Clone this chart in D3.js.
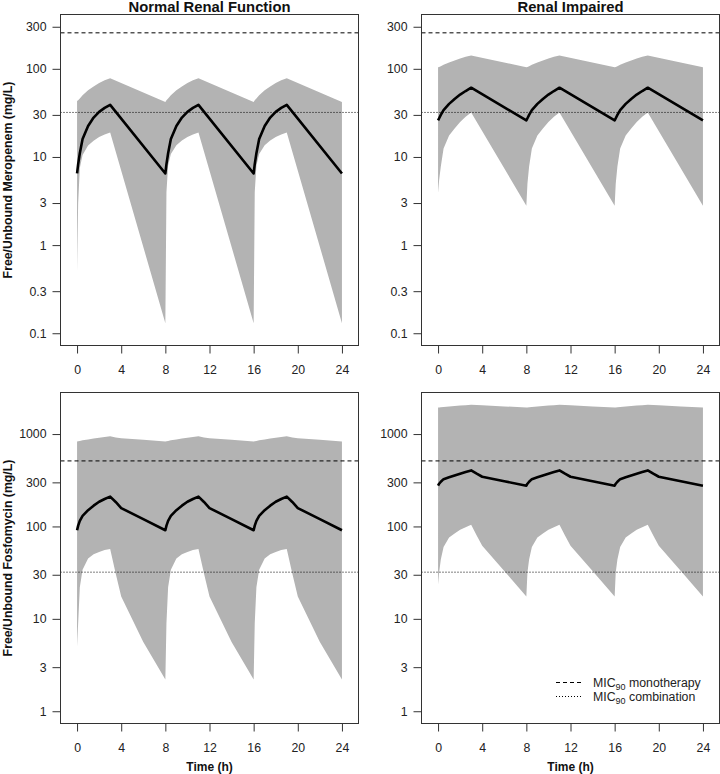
<!DOCTYPE html>
<html>
<head>
<meta charset="utf-8">
<script src="https://cdn.jsdelivr.net/npm/d3@7"></script>
<style>
  html, body { margin: 0; padding: 0; background: #fff; }
  svg { display: block; font-family: "Liberation Sans", Arial, sans-serif; }
</style>
</head>
<body>
<svg id="chart" width="720" height="774"></svg>
<script>
// ---------------- data ----------------
const timeMero = [0,0.1,0.25,0.5,1,1.5,2,2.5,3, 8,8.1,8.25,8.5,9,9.5,10,10.5,11, 16,16.1,16.25,16.5,17,17.5,18,18.5,19, 24];

const meroNormalMedian = [6.5,8.3,11,16,22.5,28,32.5,36,39, 6.5,8.3,11,16,22.5,28,32.5,36,39, 6.5,8.3,11,16,22.5,28,32.5,36,39, 6.5];
const meroNormalUpper  = [43,44,46,50,57,63,69,74,78, 42,44,46,50,57,63,69,74,78, 42,44,46,50,57,63,69,74,78, 42];
const meroNormalLower  = [0.5,3,7.5,10.5,13.5,15.3,16.8,18,19, 0.13,4,8,10.8,13.6,15.4,16.8,18,19, 0.13,4,8,10.8,13.6,15.4,16.8,18,19, 0.13];

const meroImpMedian = [26,27.5,30,34,40,45.5,51,56,61, 26,27.5,30,34,40,45.5,51,56,61, 26,27.5,30,34,40,45.5,51,56,61, 26];
const meroImpUpper  = [104,105,107,111,118,124,131,137,142, 104,105,107,111,118,124,131,137,142, 104,105,107,111,118,124,131,137,142, 104];
const meroImpLower  = [3.9,5.5,7.8,12.5,17.5,21,25,28.5,32, 2.8,5,7.8,12.5,17.5,21,25,28.5,32, 2.8,5,7.8,12.5,17.5,21,25,28.5,32, 2.8];

const timeFos = [0,0.1,0.25,0.5,1,1.5,2,2.5,3,3.5,4,6, 8,8.1,8.25,8.5,9,9.5,10,10.5,11,11.5,12,14, 16,16.1,16.25,16.5,17,17.5,18,18.5,19,19.5,20,22, 24];

const fosNormalMedian = [91,102,115,130,150,168,185,198,210,184,158,120, 91,102,115,130,150,168,185,198,210,184,158,120, 91,102,115,130,150,168,185,198,210,184,158,120, 91];
const fosNormalUpper  = [830,835,842,855,875,895,912,930,945,920,900,865, 830,835,842,855,875,895,912,930,945,920,900,865, 830,835,842,855,875,895,912,930,945,920,900,865, 830];
const fosNormalLower  = [5,9,22,34,45,50,53,55.5,57,31,17.5,5.6, 2.2,9,22,34,45,50,53,55.5,57,31,17.5,5.6, 2.2,9,22,34,45,50,53,55.5,57,31,17.5,5.6, 2.2];

const fosImpMedian = [276,290,305,325,340,356,372,388,404,372,345,308, 276,290,305,325,340,356,372,388,404,372,345,308, 276,290,305,325,340,356,372,388,404,372,345,308, 276];
const fosImpUpper  = [1940,1943,1948,1960,1985,2010,2035,2055,2075,2060,2045,1990, 1940,1943,1948,1960,1985,2010,2035,2055,2075,2060,2045,1990, 1940,1943,1948,1960,1985,2010,2035,2055,2075,2060,2045,1990, 1940];
const fosImpLower  = [23.5,32,44,60,76,84,92,98,104,80,62,33, 17.5,32,44,60,76,84,92,98,104,80,62,33, 17.5,32,44,60,76,84,92,98,104,80,62,33, 17.5];

const xTicks = [0, 4, 8, 12, 16, 20, 24];
const xLimits = [-0.5, 24.5];
const meroTicks = [0.1, 0.3, 1, 3, 10, 30, 100, 300];
const fosTicks = [1, 3, 10, 30, 100, 300, 1000];
const meroLimits = [0.1, 300];
const fosLimits = [1, 2075];
const meroMIC = [256, 32];   // monotherapy, combination
const fosMIC = [512, 32];

const columnTitles = ["Normal Renal Function", "Renal Impaired"];
const rowLabels = ["Free/Unbound Meropenem (mg/L)", "Free/Unbound Fosfomycin (mg/L)"];
const xLabel = "Time (h)";
const legendLabels = ["monotherapy", "combination"];

// ---------------- layout ----------------
const svg = d3.select("#chart");
const cols = [{left: 60.5, right: 358.5}, {left: 421.5, right: 719.5}];
const rows = [{top: 14.5, bottom: 345.5}, {top: 392.5, bottom: 723.5}];
const BAND = "#b3b3b3";
const AX = "#333";

function padLog(lims) {
  const a = Math.log10(lims[0]), b = Math.log10(lims[1]);
  const p = 0.04 * (b - a);
  return [Math.pow(10, a - p), Math.pow(10, b + p)];
}
function padLin(lims) {
  const p = 0.04 * (lims[1] - lims[0]);
  return [lims[0] - p, lims[1] + p];
}

const panels = [
  {r: 0, c: 0, t: timeMero, med: meroNormalMedian, up: meroNormalUpper, lo: meroNormalLower, ticks: meroTicks, lims: meroLimits, mic: meroMIC},
  {r: 0, c: 1, t: timeMero, med: meroImpMedian, up: meroImpUpper, lo: meroImpLower, ticks: meroTicks, lims: meroLimits, mic: meroMIC},
  {r: 1, c: 0, t: timeFos, med: fosNormalMedian, up: fosNormalUpper, lo: fosNormalLower, ticks: fosTicks, lims: fosLimits, mic: fosMIC},
  {r: 1, c: 1, t: timeFos, med: fosImpMedian, up: fosImpUpper, lo: fosImpLower, ticks: fosTicks, lims: fosLimits, mic: fosMIC}
];

panels.forEach((p, i) => {
  const C = cols[p.c], R = rows[p.r];
  const x = d3.scaleLinear().domain(padLin(xLimits)).range([C.left, C.right]);
  const y = d3.scaleLog().domain(padLog(p.lims)).range([R.bottom, R.top]);
  const g = svg.append("g");
  const clipId = "clip" + i;
  svg.append("clipPath").attr("id", clipId).append("rect")
    .attr("x", C.left).attr("y", R.top).attr("width", C.right - C.left).attr("height", R.bottom - R.top);

  const data = p.t.map((t, k) => ({t, med: p.med[k], up: p.up[k], lo: p.lo[k]}));
  const plot = g.append("g").attr("clip-path", `url(#${clipId})`);

  plot.append("path").datum(data)
    .attr("d", d3.area().x(d => x(d.t)).y0(d => y(d.lo)).y1(d => y(d.up)))
    .attr("fill", BAND).attr("stroke", "none");

  // MIC lines
  plot.append("line").attr("x1", C.left).attr("x2", C.right)
    .attr("y1", y(p.mic[0])).attr("y2", y(p.mic[0]))
    .attr("stroke", "#000").attr("stroke-width", 1).attr("stroke-dasharray", "4,3");
  plot.append("line").attr("x1", C.left).attr("x2", C.right)
    .attr("y1", y(p.mic[1])).attr("y2", y(p.mic[1]))
    .attr("stroke", "#000").attr("stroke-width", 1).attr("stroke-dasharray", "1,2");

  plot.append("path").datum(data)
    .attr("d", d3.line().x(d => x(d.t)).y(d => y(d.med)))
    .attr("fill", "none").attr("stroke", "#000").attr("stroke-width", 2.6)
    .attr("stroke-linejoin", "round");

  // box
  g.append("rect").attr("x", C.left).attr("y", R.top)
    .attr("width", C.right - C.left).attr("height", R.bottom - R.top)
    .attr("fill", "none").attr("stroke", AX).attr("stroke-width", 1);

  // y axis
  const yAxis = d3.axisLeft(y).tickValues(p.ticks).tickFormat(d => String(d)).tickSize(8).tickPadding(6);
  const ya = g.append("g").attr("transform", `translate(${C.left},0)`).call(yAxis);
  ya.select(".domain").remove();
  ya.selectAll("line").attr("stroke", AX);
  ya.selectAll("text").attr("font-size", 12.3).attr("fill", "#222")
    .attr("font-family", "Liberation Sans, Arial, sans-serif");

  // x axis
  const xAxis = d3.axisBottom(x).tickValues(xTicks).tickSize(8).tickPadding(12);
  const xa = g.append("g").attr("transform", `translate(0,${R.bottom})`).call(xAxis);
  xa.select(".domain").remove();
  xa.selectAll("line").attr("stroke", AX);
  xa.selectAll("text").attr("font-size", 12.3).attr("fill", "#222")
    .attr("font-family", "Liberation Sans, Arial, sans-serif");

  if (p.r === 0) {
    svg.append("text").attr("x", (C.left + C.right) / 2).attr("y", 12)
      .attr("text-anchor", "middle").attr("font-size", 14.8).attr("font-weight", "bold")
      .attr("fill", "#111").text(columnTitles[p.c]);
  }
  if (p.c === 0) {
    svg.append("text")
      .attr("transform", `translate(11.5,${(R.top + R.bottom) / 2}) rotate(-90)`)
      .attr("text-anchor", "middle").attr("font-size", 12.3).attr("font-weight", "bold")
      .attr("fill", "#111").text(rowLabels[p.r]);
  }
  if (p.r === 1) {
    svg.append("text").attr("x", x(12)).attr("y", 771)
      .attr("text-anchor", "middle").attr("font-size", 12).attr("font-weight", "bold")
      .attr("fill", "#111").text(xLabel);
  }

  // legend in bottom-right panel
  if (p.r === 1 && p.c === 1) {
    const lg = svg.append("g");
    const items = [{dash: "4,3", y: 682.5, label: legendLabels[0]}, {dash: "1,2", y: 696.5, label: legendLabels[1]}];
    items.forEach(it => {
      lg.append("line").attr("x1", 556).attr("x2", 582).attr("y1", it.y).attr("y2", it.y)
        .attr("stroke", "#000").attr("stroke-width", 1).attr("stroke-dasharray", it.dash);
      const t = lg.append("text").attr("x", 593).attr("y", it.y + 4.5)
        .attr("font-size", 12.3).attr("fill", "#222");
      t.append("tspan").text("MIC");
      t.append("tspan").attr("font-size", 9).attr("dy", 3).text("90");
      t.append("tspan").attr("dy", -3).text(" " + it.label);
    });
  }
});
</script>
</body>
</html>
